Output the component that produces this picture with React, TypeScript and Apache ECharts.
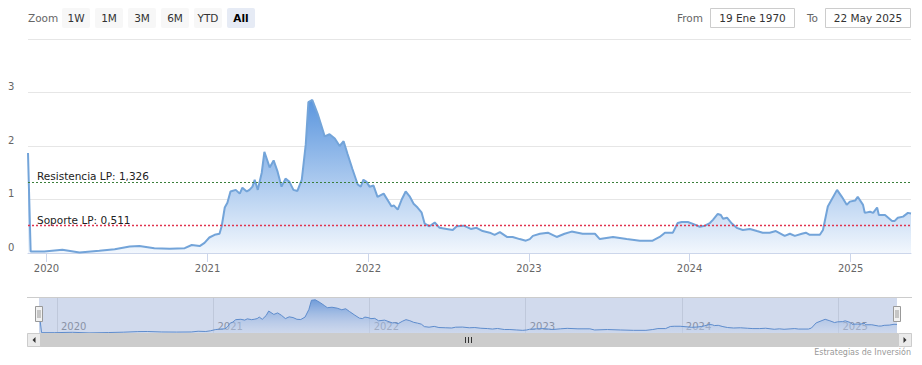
import React, { useEffect, useRef } from 'react';
import * as echarts from 'echarts';

const dates: string[] = [
  '2019-11-20','2019-11-26','2019-12-27','2020-02-06','2020-03-16','2020-04-30','2020-06-04','2020-07-08','2020-07-30','2020-09-02',
  '2020-10-07','2020-11-10','2020-11-26','2020-12-14','2020-12-25','2021-01-05','2021-01-17','2021-01-28','2021-02-02','2021-02-09',
  '2021-02-15','2021-02-22','2021-03-06','2021-03-15','2021-03-21','2021-03-31','2021-04-06','2021-04-13','2021-04-18','2021-04-25',
  '2021-05-04','2021-05-10','2021-05-22','2021-05-31','2021-06-09','2021-06-18','2021-06-27','2021-07-06','2021-07-15','2021-07-24',
  '2021-08-03','2021-08-12','2021-08-18','2021-08-27','2021-09-08','2021-09-17','2021-09-24','2021-10-05','2021-10-17','2021-10-28',
  '2021-11-06','2021-11-15','2021-11-26','2021-12-08','2021-12-15','2021-12-21','2021-12-28','2022-01-04','2022-01-13','2022-01-22',
  '2022-02-05','2022-02-23','2022-02-28','2022-03-09','2022-03-18','2022-03-27','2022-04-05','2022-04-14','2022-04-23','2022-05-02',
  '2022-05-09','2022-05-20','2022-06-01','2022-06-12','2022-06-28','2022-07-12','2022-07-21','2022-08-06','2022-08-22','2022-09-04',
  '2022-09-18','2022-10-04','2022-10-15','2022-10-27','2022-11-12','2022-11-25','2022-12-11','2022-12-25','2023-01-03','2023-01-10',
  '2023-01-26','2023-02-13','2023-03-05','2023-03-23','2023-04-08','2023-05-03','2023-05-31','2023-06-11','2023-07-11','2023-08-11',
  '2023-09-10','2023-10-09','2023-10-25','2023-11-06','2023-11-24','2023-12-05','2023-12-14','2023-12-28','2024-01-13','2024-01-24',
  '2024-02-05','2024-02-16','2024-02-23','2024-03-05','2024-03-12','2024-03-17','2024-03-26','2024-04-06','2024-04-17','2024-05-01',
  '2024-05-17','2024-06-02','2024-06-15','2024-07-01','2024-07-15','2024-08-04','2024-08-16','2024-08-27','2024-09-12','2024-09-21',
  '2024-09-30','2024-10-23','2024-10-30','2024-11-10','2024-12-01','2024-12-12','2024-12-23','2024-12-30','2025-01-11','2025-01-17',
  '2025-01-29','2025-02-02','2025-02-14','2025-02-21','2025-03-02','2025-03-06','2025-03-20','2025-04-05','2025-04-11','2025-04-18',
  '2025-04-30','2025-05-11','2025-05-18',
];

const values: number[] = [
  1.87, 0.03, 0.03, 0.06, 0.01, 0.04, 0.07, 0.12, 0.13, 0.09,
  0.08, 0.09, 0.15, 0.13, 0.19, 0.29, 0.34, 0.36, 0.50, 0.85,
  0.94, 1.15, 1.18, 1.11, 1.22, 1.15, 1.18, 1.24, 1.37, 1.18,
  1.50, 1.89, 1.60, 1.73, 1.52, 1.24, 1.39, 1.33, 1.18, 1.16,
  1.37, 2.03, 2.82, 2.86, 2.60, 2.37, 2.18, 2.22, 2.14, 2.00,
  2.09, 1.85, 1.57, 1.28, 1.24, 1.37, 1.33, 1.24, 1.26, 1.05,
  1.11, 0.87, 0.89, 0.81, 1.00, 1.15, 1.06, 0.92, 0.85, 0.76,
  0.55, 0.50, 0.57, 0.47, 0.45, 0.43, 0.50, 0.51, 0.45, 0.47,
  0.41, 0.38, 0.34, 0.39, 0.30, 0.30, 0.26, 0.23, 0.26, 0.32,
  0.36, 0.38, 0.30, 0.36, 0.40, 0.36, 0.36, 0.26, 0.30, 0.26,
  0.23, 0.23, 0.30, 0.38, 0.38, 0.56, 0.58, 0.58, 0.53, 0.49,
  0.51, 0.56, 0.62, 0.73, 0.71, 0.64, 0.66, 0.55, 0.47, 0.43,
  0.45, 0.41, 0.38, 0.38, 0.41, 0.32, 0.36, 0.32, 0.36, 0.38,
  0.34, 0.34, 0.43, 0.87, 1.18, 1.05, 0.90, 0.96, 0.98, 1.05,
  0.90, 0.75, 0.77, 0.75, 0.85, 0.71, 0.71, 0.60, 0.60, 0.66,
  0.68, 0.75, 0.74,
];

const yearTicks: string[] = ['2020-01-01', '2021-01-01', '2022-01-01', '2023-01-01', '2024-01-01', '2025-01-01'];
const resistance = 1.326;
const support = 0.511;
const resistanceName = 'Resistencia LP';
const supportName = 'Soporte LP';
const zoomButtons: string[] = ['1W', '1M', '3M', '6M', 'YTD', 'All'];
const selectedButton = 'All';
const fromDate = '19 Ene 1970';
const toDate = '22 May 2025';
const credits = 'Estrategias de Inversión';

const FONT = 'DejaVu Sans';

function parseDate(s: string): number {
  const [y, m, d] = s.split('-').map(Number);
  return new Date(y, m - 1, d).getTime();
}

function fmtNum(v: number): string {
  return v.toFixed(3).replace('.', ',');
}

function levelSeries(name: string, value: number, color: string, width: number) {
  return {
    type: 'line', name, xAxisIndex: 0, yAxisIndex: 0, data: [],
    showSymbol: false, symbol: 'none', z: 5,
    itemStyle: { color },
    lineStyle: { color },
    markLine: {
      silent: true, symbol: ['none', 'none'], animation: false,
      lineStyle: { color, type: [2, 2], width, opacity: 1 },
      label: {
        formatter: `${name}: ${fmtNum(value)}`, position: 'insideStartTop',
        color: '#222', fontSize: 10.5, distance: [9, 0],
      },
      data: [{ yAxis: value }],
    },
  };
}

export default function App() {
  const ref = useRef<HTMLDivElement>(null);

  useEffect(() => {
    document.body.style.margin = '0';
    if (!ref.current) return;
    const chart = echarts.init(ref.current, undefined, { renderer: 'svg' });

    const data = dates.map((d, i) => [parseDate(d), values[i]]);
    const yearTs = yearTicks.map(parseDate);
    const xMin = parseDate(dates[0]);
    const xMax = parseDate(dates[dates.length - 1]);
    const yearFmt = (v: number) => String(new Date(v + 12 * 3600 * 1000).getFullYear());

    const mainGradient = new echarts.graphic.LinearGradient(0, 0, 0, 1, [
      { offset: 0, color: '#5b96de' },
      { offset: 1, color: '#f2f7fd' },
    ]);
    const navGradient = new echarts.graphic.LinearGradient(0, 0, 0, 1, [
      { offset: 0, color: 'rgba(91,150,222,0.85)' },
      { offset: 1, color: 'rgba(242,247,253,0.4)' },
    ]);

    const graphics: any[] = [];
    graphics.push({
      type: 'text', x: 28, y: 18,
      style: { text: 'Zoom', fill: '#666', fontSize: 10.5, fontFamily: FONT, verticalAlign: 'middle' },
    });
    zoomButtons.forEach((b, i) => {
      const x = 62 + i * 33;
      const sel = b === selectedButton;
      graphics.push({
        type: 'rect', shape: { x, y: 8, width: 28, height: 20, r: 2 },
        style: { fill: sel ? '#e6ebf5' : '#f7f7f7' },
      });
      graphics.push({
        type: 'text', x: x + 14, y: 18,
        style: {
          text: b, fill: sel ? '#000' : '#333', fontSize: 10.5, fontFamily: FONT,
          fontWeight: sel ? 'bold' : 'normal', align: 'center', verticalAlign: 'middle',
        },
      });
    });
    graphics.push({
      type: 'text', x: 703, y: 18,
      style: { text: 'From', fill: '#666', fontSize: 10.5, fontFamily: FONT, align: 'right', verticalAlign: 'middle' },
    });
    graphics.push({
      type: 'rect', shape: { x: 710.5, y: 8.5, width: 84, height: 19 },
      style: { fill: '#fff', stroke: '#cccccc', lineWidth: 1 },
    });
    graphics.push({
      type: 'text', x: 752.5, y: 18,
      style: { text: fromDate, fill: '#333', fontSize: 10.5, fontFamily: FONT, align: 'center', verticalAlign: 'middle' },
    });
    graphics.push({
      type: 'text', x: 818, y: 18,
      style: { text: 'To', fill: '#666', fontSize: 10.5, fontFamily: FONT, align: 'right', verticalAlign: 'middle' },
    });
    graphics.push({
      type: 'rect', shape: { x: 825.5, y: 8.5, width: 85, height: 19 },
      style: { fill: '#fff', stroke: '#cccccc', lineWidth: 1 },
    });
    graphics.push({
      type: 'text', x: 868, y: 18,
      style: { text: toDate, fill: '#333', fontSize: 10.5, fontFamily: FONT, align: 'center', verticalAlign: 'middle' },
    });

    // navigator mask & outline
    graphics.push({
      type: 'rect', z: 20, shape: { x: 39, y: 297, width: 858, height: 36 },
      style: { fill: 'rgba(102,133,194,0.3)' },
    });
    graphics.push({
      type: 'line', z: 21, shape: { x1: 27, y1: 297.5, x2: 912, y2: 297.5 },
      style: { stroke: '#cccccc', lineWidth: 1 },
    });
    // scrollbar
    graphics.push({
      type: 'rect', z: 21, shape: { x: 27, y: 333, width: 885, height: 14 },
      style: { fill: '#f2f2f2' },
    });
    graphics.push({
      type: 'rect', z: 22, shape: { x: 39, y: 333, width: 859, height: 14 },
      style: { fill: '#cccccc' },
    });
    [27, 898].forEach((bx, i) => {
      graphics.push({
        type: 'rect', z: 23, shape: { x: bx + 0.5, y: 333.5, width: 13, height: 13 },
        style: { fill: '#ebebeb', stroke: '#cccccc', lineWidth: 1 },
      });
      const cx = bx + 7;
      graphics.push({
        type: 'polygon', z: 24,
        shape: {
          points: i === 0
            ? [[cx + 1.5, 337], [cx - 1.5, 340], [cx + 1.5, 343]]
            : [[cx - 1.5, 337], [cx + 1.5, 340], [cx - 1.5, 343]],
        },
        style: { fill: '#333' },
      });
    });
    [465, 468, 471].forEach((rx) => {
      graphics.push({
        type: 'line', z: 24, shape: { x1: rx + 0.5, y1: 337, x2: rx + 0.5, y2: 343 },
        style: { stroke: '#333', lineWidth: 1 },
      });
    });
    // handles
    [39, 897].forEach((hx) => {
      graphics.push({
        type: 'rect', z: 25, shape: { x: hx - 3.5, y: 306.5, width: 7, height: 15 },
        style: { fill: '#f2f2f2', stroke: '#999', lineWidth: 1 },
      });
      graphics.push({
        type: 'line', z: 26, shape: { x1: hx - 1, y1: 310, x2: hx - 1, y2: 318 },
        style: { stroke: '#999', lineWidth: 1 },
      });
      graphics.push({
        type: 'line', z: 26, shape: { x1: hx + 1, y1: 310, x2: hx + 1, y2: 318 },
        style: { stroke: '#999', lineWidth: 1 },
      });
    });
    graphics.push({
      type: 'text', x: 911, y: 352,
      style: { text: credits, fill: '#999', fontSize: 8, fontFamily: FONT, align: 'right', verticalAlign: 'middle' },
    });

    const option: any = {
      animation: false,
      textStyle: { fontFamily: FONT },
      grid: [
        { left: 28, top: 39, width: 883, height: 214 },
        { left: 39, top: 297, width: 858, height: 36 },
      ],
      xAxis: [
        {
          type: 'value', gridIndex: 0, min: xMin, max: xMax, scale: true,
          axisLine: { lineStyle: { color: '#ccd6eb' } },
          axisTick: { show: true, length: 9, lineStyle: { color: '#ccd6eb' }, customValues: yearTs },
          axisLabel: {
            customValues: yearTs, formatter: yearFmt,
            color: '#666', fontSize: 10, margin: 10, hideOverlap: false,
          },
          splitLine: { show: false },
        },
        {
          type: 'value', gridIndex: 1, min: xMin, max: xMax, scale: true,
          axisLine: { show: false },
          axisTick: { show: false, customValues: yearTs },
          axisLabel: {
            customValues: yearTs, inside: true, align: 'left', padding: [0, 0, 0, 4],
            formatter: yearFmt,
            color: '#999', fontSize: 10, margin: 2, hideOverlap: false,
          },
          splitLine: { show: true, lineStyle: { color: '#e6e6e6' } },
        },
      ],
      yAxis: [
        {
          type: 'value', gridIndex: 0, min: 0, max: 4, interval: 1,
          axisLine: { show: false }, axisTick: { show: false },
          axisLabel: {
            formatter: (v: number) => (v === 4 ? '' : String(v)),
            align: 'left', verticalAlign: 'bottom', margin: 20, color: '#666', fontSize: 10,
            lineHeight: 12,
          },
          splitLine: { lineStyle: { color: '#e6e6e6' } },
        },
        {
          type: 'value', gridIndex: 1, min: 0, max: 3.1, show: false,
          splitLine: { show: false },
        },
      ],
      series: [
        {
          type: 'line', xAxisIndex: 0, yAxisIndex: 0, data,
          showSymbol: false, symbol: 'none',
          lineStyle: { color: '#73a4d9', width: 2 },
          itemStyle: { color: '#73a4d9' },
          areaStyle: { color: mainGradient, opacity: 1 },
        },
        levelSeries(resistanceName, resistance, '#3b7f3b', 1),
        levelSeries(supportName, support, '#e0344f', 1.4),
        {
          type: 'line', xAxisIndex: 1, yAxisIndex: 1, data,
          showSymbol: false, symbol: 'none',
          lineStyle: { color: '#5a8fd0', width: 1 },
          itemStyle: { color: '#5a8fd0' },
          areaStyle: { color: navGradient, opacity: 1 },
        },
      ],
      graphic: graphics,
    };

    chart.setOption(option);
    return () => chart.dispose();
  }, []);

  return <div ref={ref} style={{ width: 922, height: 365 }} />;
}
